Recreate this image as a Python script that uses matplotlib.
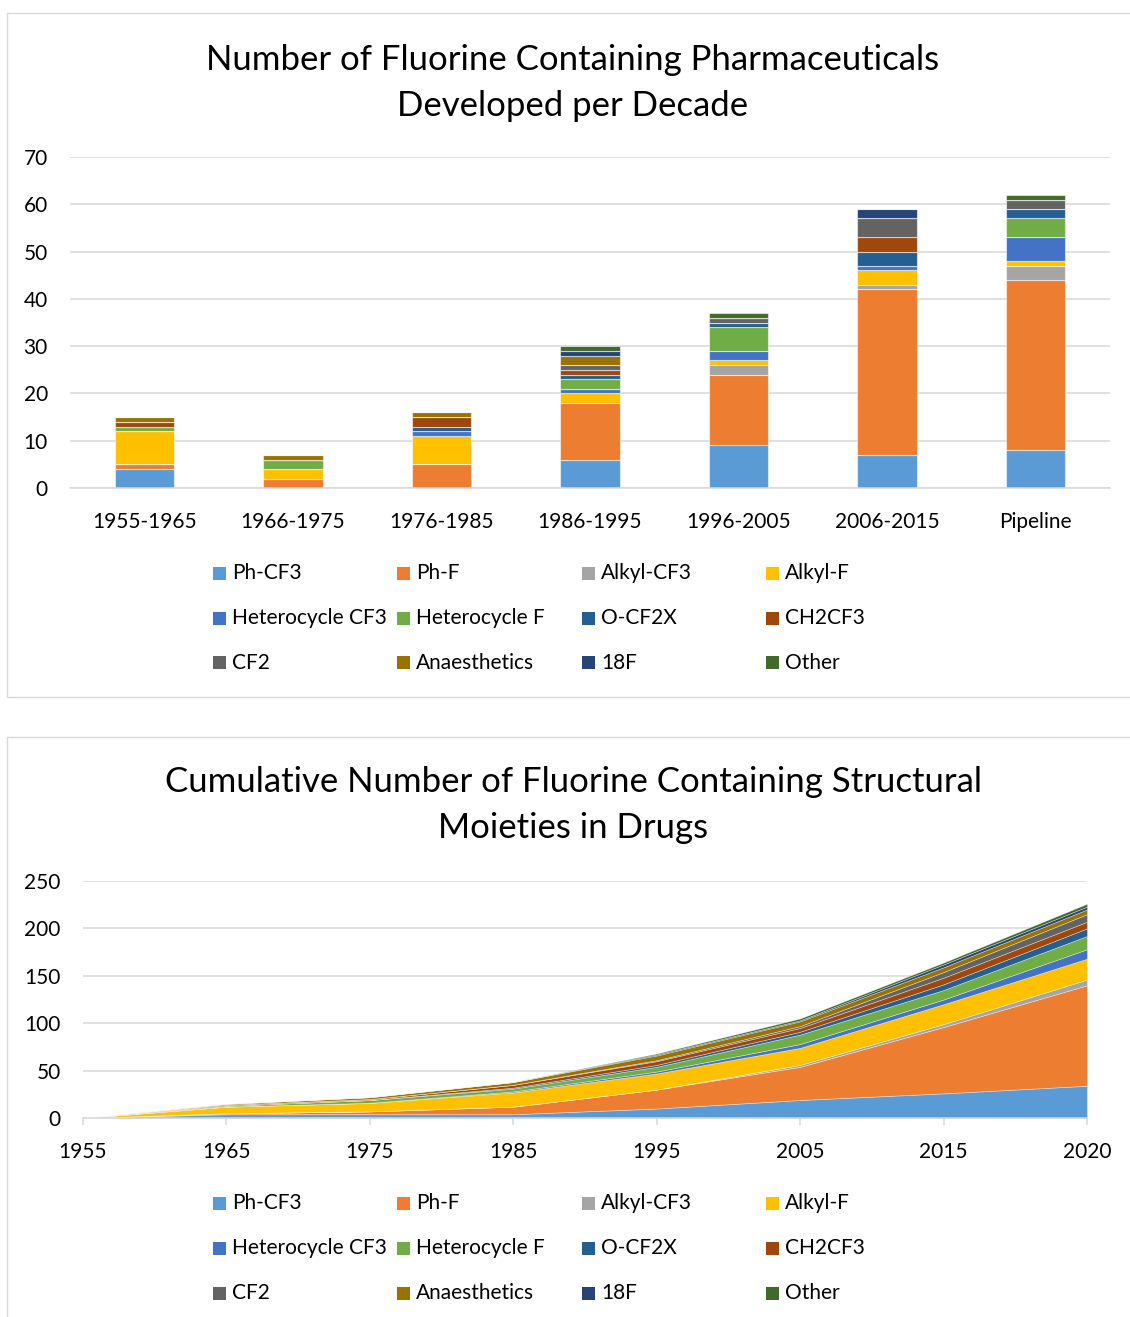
import matplotlib
matplotlib.use("Agg")
import matplotlib.pyplot as plt
from matplotlib.patches import Rectangle
import numpy as np

plt.rcParams['font.family'] = ['Lato', 'DejaVu Sans']

# ---------------- data ----------------
series = ["Ph-CF3", "Ph-F", "Alkyl-CF3", "Alkyl-F",
          "Heterocycle CF3", "Heterocycle F", "O-CF2X", "CH2CF3",
          "CF2", "Anaesthetics", "18F", "Other"]
colors = ["#5B9BD5", "#ED7D31", "#A5A5A5", "#FFC000",
          "#4472C4", "#70AD47", "#255E91", "#9E480E",
          "#636363", "#997300", "#264478", "#43682B"]

decades = ["1955-1965", "1966-1975", "1976-1985", "1986-1995",
           "1996-2005", "2006-2015", "Pipeline"]
ph_cf3 = [4, 0, 0, 6, 9, 7, 8]
ph_f = [1, 2, 5, 12, 15, 35, 36]
alkyl_cf3 = [0, 0, 0, 0, 2, 1, 3]
alkyl_f = [7, 2, 6, 2, 1, 3, 1]
het_cf3 = [0, 0, 1, 1, 2, 1, 5]
het_f = [1, 2, 0, 2, 5, 0, 4]
o_cf2x = [0, 0, 1, 1, 1, 3, 2]
ch2cf3 = [1, 0, 2, 1, 0, 3, 0]
cf2 = [0, 0, 0, 1, 1, 4, 2]
anaesthetics = [1, 1, 1, 2, 0, 0, 0]
f18 = [0, 0, 0, 1, 0, 2, 0]
other = [0, 0, 0, 1, 1, 0, 1]

years = ["1955", "1965", "1975", "1985", "1995", "2005", "2015", "2020"]
cum_ph_cf3 = [0, 4, 4, 4, 10, 19, 26, 34]
cum_ph_f = [0, 1, 3, 8, 20, 35, 70, 106]
cum_alkyl_cf3 = [0, 0, 0, 0, 0, 2, 3, 6]
cum_alkyl_f = [0, 7, 9, 15, 17, 18, 21, 22]
cum_het_cf3 = [0, 0, 0, 1, 2, 4, 5, 10]
cum_het_f = [0, 1, 3, 3, 5, 10, 10, 14]
cum_o_cf2x = [0, 0, 0, 1, 2, 3, 6, 8]
cum_ch2cf3 = [0, 1, 1, 3, 4, 4, 7, 7]
cum_cf2 = [0, 0, 0, 0, 1, 2, 6, 8]
cum_anaesthetics = [0, 1, 2, 3, 5, 5, 5, 5]
cum_f18 = [0, 0, 0, 0, 1, 1, 3, 3]
cum_other = [0, 0, 0, 0, 1, 2, 2, 3]

bar_data = [ph_cf3, ph_f, alkyl_cf3, alkyl_f, het_cf3, het_f,
            o_cf2x, ch2cf3, cf2, anaesthetics, f18, other]
cum_data = [cum_ph_cf3, cum_ph_f, cum_alkyl_cf3, cum_alkyl_f, cum_het_cf3,
            cum_het_f, cum_o_cf2x, cum_ch2cf3, cum_cf2, cum_anaesthetics,
            cum_f18, cum_other]

# ---------------- layout ----------------
W, H = 1130, 1317
fig = plt.figure(figsize=(W / 100, H / 100), dpi=100)
GRID = "#d9d9d9"
TXT = "#000000"
FS_TICK = 15
FS_TITLE = 25


def fx(x):
    return x / W


def fy(y):
    return 1 - y / H


def ax_rect(x0, y0, x1, y1):
    return [fx(x0), fy(y1), fx(x1) - fx(x0), fy(y0) - fy(y1)]


# panel borders
for (x0, y0, x1, y1) in [(7, 13, 1135, 697), (7, 737, 1135, 1330)]:
    fig.patches.append(Rectangle((fx(x0), fy(y1)), fx(x1) - fx(x0), fy(y0) - fy(y1),
                                 transform=fig.transFigure, fill=False,
                                 edgecolor=GRID, linewidth=1.0, zorder=0))


def style_axes(ax):
    for s in ["top", "right", "left"]:
        ax.spines[s].set_visible(False)
    ax.spines["bottom"].set_color(GRID)
    ax.spines["bottom"].set_linewidth(1.1)
    ax.yaxis.grid(True, color=GRID, linewidth=1.1)
    ax.set_axisbelow(True)
    ax.tick_params(axis="y", length=0, pad=16, labelsize=FS_TICK, colors=TXT)


def draw_legend(y_rows):
    xs = [213, 397, 582, 766]
    for i, (name, c) in enumerate(zip(series, colors)):
        r, col = divmod(i, 4)
        x = xs[col]
        y = y_rows[r]
        sq = 13
        fig.patches.append(Rectangle((fx(x), fy(y + sq / 2)), sq / W, sq / H,
                                     transform=fig.transFigure, facecolor=c,
                                     edgecolor="none"))
        fig.text(fx(x + 19), fy(y), name, fontsize=FS_TICK, color=TXT,
                 va="center", ha="left")


# ---------------- top chart ----------------
ax1 = fig.add_axes(ax_rect(70, 157, 1110, 488))
style_axes(ax1)
xpos = np.arange(len(decades))
bottom = np.zeros(len(decades))
for vals, c, name in zip(bar_data, colors, series):
    v = np.array(vals, dtype=float)
    ax1.bar(xpos, v, bottom=bottom, width=0.4, color=c,
            edgecolor=(1, 1, 1, 0.55), linewidth=0.8, label=name, zorder=2)
    bottom += v
ax1.set_xlim(-0.5, len(decades) - 0.5)
ax1.set_ylim(0, 70)
ax1.set_yticks(range(0, 71, 10))
ax1.set_xticks(xpos)
ax1.set_xticklabels(decades)
ax1.tick_params(axis="x", length=0, pad=17, labelsize=FS_TICK, colors=TXT)

fig.text(fx(573), fy(83), "Number of Fluorine Containing Pharmaceuticals\nDeveloped per Decade",
         ha="center", va="center", fontsize=FS_TITLE, color=TXT, linespacing=1.5)
draw_legend([573, 618, 663])

# ---------------- bottom chart ----------------
ax2 = fig.add_axes(ax_rect(83, 881, 1087, 1118))
style_axes(ax2)
xi = np.arange(len(years))
ax2.stackplot(xi, *[np.array(v, dtype=float) for v in cum_data], colors=colors,
              edgecolor=(1, 1, 1, 0.45), linewidth=0.5, zorder=2)
ax2.set_xlim(0, len(years) - 1)
ax2.set_ylim(0, 250)
ax2.set_yticks(range(0, 251, 50))
ax2.set_xticks(xi)
ax2.set_xticklabels(years)
ax2.tick_params(axis="x", length=5, width=1.1, color=GRID, pad=12,
                labelsize=FS_TICK, colors=TXT)

fig.text(fx(573), fy(805), "Cumulative Number of Fluorine Containing Structural\nMoieties in Drugs",
         ha="center", va="center", fontsize=FS_TITLE, color=TXT, linespacing=1.5)
draw_legend([1203, 1248, 1293])

fig.savefig("out.png", dpi=100, facecolor="white")
